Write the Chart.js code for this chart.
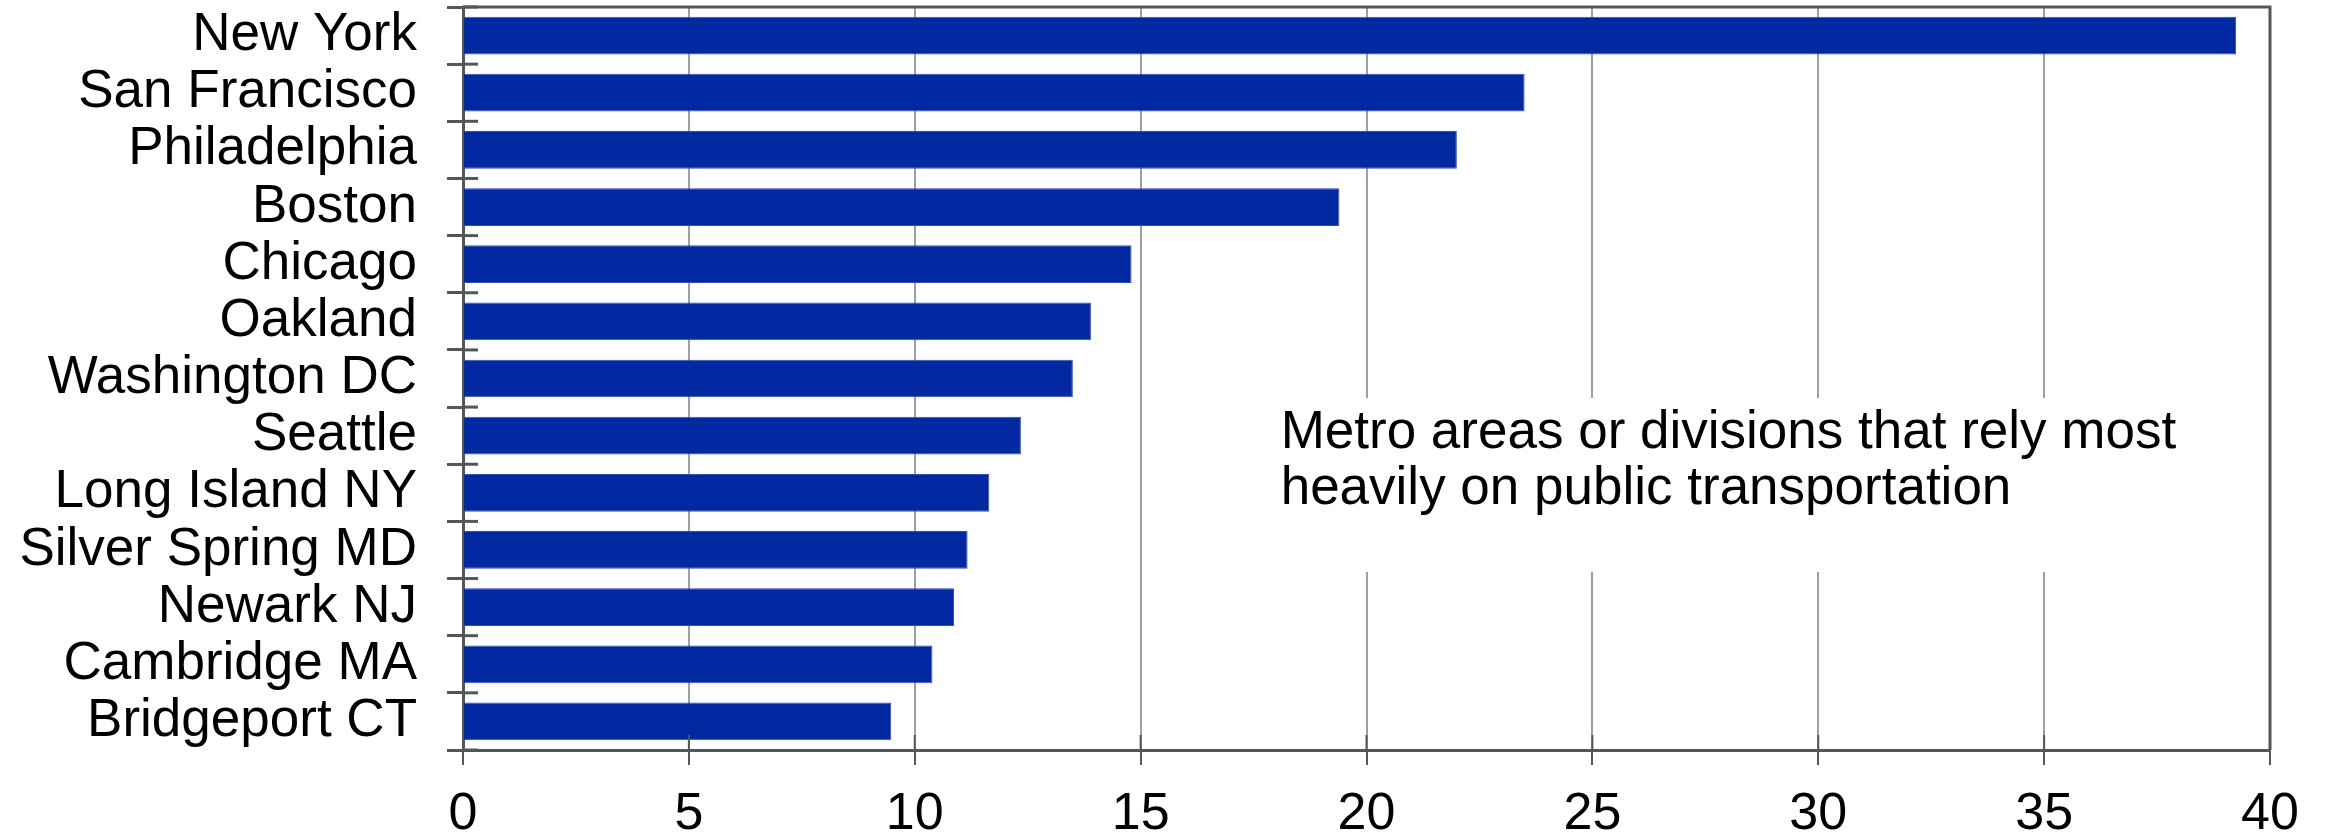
<!DOCTYPE html>
<html>
<head>
<meta charset="utf-8">
<script src="https://cdn.jsdelivr.net/npm/chart.js@4.4.1/dist/chart.umd.min.js"></script>
<style>
    html, body { margin: 0; padding: 0; background: #fff; }
    #wrap { width: 2325px; height: 836px; }
</style>
</head>
<body>
<div id="wrap"><canvas id="myChart"></canvas></div>
<script>
const ciudades = ['New York', 'San Francisco', 'Philadelphia', 'Boston', 'Chicago', 'Oakland',
    'Washington DC', 'Seattle', 'Long Island NY', 'Silver Spring MD', 'Newark NJ', 'Cambridge MA', 'Bridgeport CT'];
const valores = [39.25, 23.5, 22.0, 19.4, 14.8, 13.9, 13.5, 12.35, 11.65, 11.17, 10.87, 10.39, 9.48];
const ticksX = [0, 5, 10, 15, 20, 25, 30, 35, 40];
const nota = ['Metro areas or divisions that rely most', 'heavily on public transportation'];

const fuente = "'Liberation Sans', Arial, sans-serif";
const grisOscuro = '#52575c';

// marco superior/derecho, marcas hacia dentro y el cuadro de texto
const extras = {
    id: 'extras',
    afterDraw(chart) {
        const ctx = chart.ctx;
        const a = chart.chartArea;
        const x = chart.scales.x;
        const y = chart.scales.y;
        ctx.save();
        ctx.strokeStyle = grisOscuro;
        ctx.lineWidth = 3;
        ctx.beginPath();
        ctx.moveTo(a.left, a.top);
        ctx.lineTo(a.right, a.top);
        ctx.lineTo(a.right, a.bottom);
        ctx.stroke();

        // marcas hacia dentro en el eje y (entre categorías)
        for (let i = 0; i <= ciudades.length; i++) {
            const py = y.getPixelForValue(i - 0.5);
            ctx.beginPath();
            ctx.moveTo(a.left, py);
            ctx.lineTo(a.left + 15, py);
            ctx.stroke();
        }

        // marcas hacia dentro en el eje x
        ctx.lineWidth = 2;
        ticksX.forEach(v => {
            const px = x.getPixelForValue(v);
            ctx.beginPath();
            ctx.moveTo(px, a.bottom);
            ctx.lineTo(px, a.bottom - 15);
            ctx.stroke();
        });

        // cuadro blanco con la nota
        const nx = x.getPixelForValue(18.1);
        ctx.fillStyle = '#fff';
        ctx.fillRect(nx - 20, 398, 940, 174);
        ctx.fillStyle = '#000';
        ctx.font = '53px ' + fuente;
        ctx.textBaseline = 'alphabetic';
        ctx.textAlign = 'left';
        nota.forEach((t, i) => ctx.fillText(t, nx, 448 + i * 56));
        ctx.restore();
    }
};

let myChart = document.getElementById('myChart').getContext('2d');

let grafico = new Chart(myChart, {
    type: 'bar',
    data: {
        labels: ciudades,
        datasets: [{
            data: valores,
            backgroundColor: '#0028a0',
            borderColor: '#2f4fb5',
            borderWidth: 1,
            barPercentage: 0.66,
            categoryPercentage: 1
        }]
    },
    options: {
        indexAxis: 'y',
        responsive: true,
        maintainAspectRatio: false,
        animation: false,
        plugins: {
            legend: { display: false },
            tooltip: { enabled: false }
        },
        layout: {
            padding: { left: 0, right: 55, top: 7, bottom: 0 }
        },
        scales: {
            x: {
                min: 0,
                max: 40,
                afterBuildTicks: (axis) => {
                    axis.ticks = ticksX.map(v => ({ value: v }));
                },
                afterFit: (axis) => { axis.height = 86; },
                grid: {
                    color: '#9ba0a6',
                    lineWidth: 2,
                    tickLength: 15,
                    tickColor: grisOscuro,
                    tickWidth: 2
                },
                border: { color: grisOscuro, width: 3 },
                ticks: {
                    color: '#000',
                    padding: 18,
                    font: { family: fuente, size: 52 }
                }
            },
            y: {
                afterFit: (axis) => {
                    axis.width = 463;
                    axis.paddingTop = 0;     // sin margen extra arriba/abajo
                    axis.paddingBottom = 0;
                },
                grid: {
                    drawOnChartArea: false,
                    tickLength: 16,
                    tickColor: grisOscuro,
                    tickWidth: 3
                },
                border: { color: grisOscuro, width: 3 },
                ticks: {
                    color: '#000',
                    autoSkip: false,
                    padding: 30,
                    font: { family: fuente, size: 53 }
                }
            }
        }
    },
    plugins: [extras]
});
</script>
</body>
</html>
